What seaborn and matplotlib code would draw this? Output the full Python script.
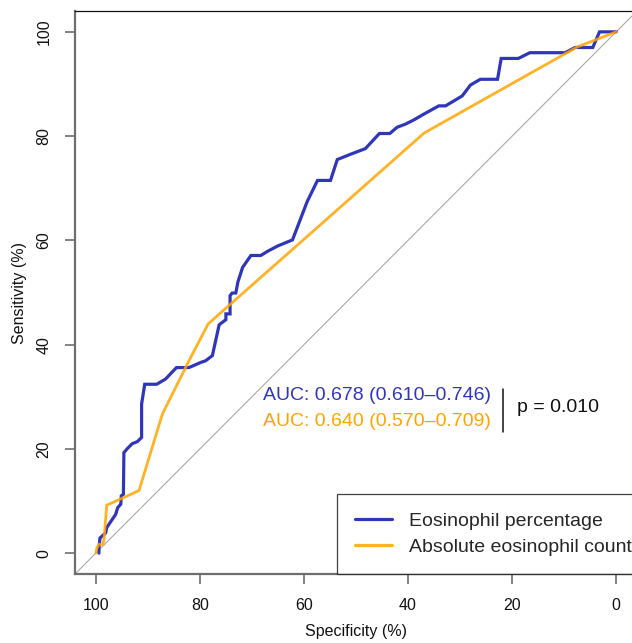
import pandas as pd
import matplotlib
matplotlib.use("Agg")
import matplotlib.pyplot as plt
import seaborn as sns

# ROC points (specificity %, sensitivity %)
pct_spec = [99.4, 99.4, 99.2, 98.1, 97.9, 97.3, 96.2, 95.8, 95.2, 95.1, 94.7, 94.6,
            93.9, 93.0, 92.0, 91.2, 91.2, 90.6, 88.3, 86.6, 84.5, 82.1, 79.8, 78.9,
            77.6, 76.3, 75.0, 75.0, 74.2, 74.2, 73.8, 73.1, 72.7, 71.8, 70.2, 68.3,
            67.0, 65.1, 62.2, 59.4, 57.4, 54.9, 53.6, 51.1, 48.2, 45.5, 43.5, 42.1,
            40.5, 38.9, 37.0, 34.1, 32.8, 29.6, 28.0, 26.1, 22.8, 22.1, 18.8, 16.6,
            9.8, 7.9, 4.5, 4.5, 3.2, 0.0]
pct_sens = [0.0, 1.0, 2.9, 3.9, 4.9, 5.8, 7.4, 8.7, 9.4, 11.0, 11.3, 19.3,
            20.1, 21.0, 21.4, 22.2, 28.6, 32.4, 32.4, 33.4, 35.6, 35.6, 36.6, 36.9,
            37.9, 43.8, 44.8, 45.9, 45.9, 49.4, 49.9, 49.9, 52.0, 54.8, 57.1, 57.1,
            57.9, 58.9, 60.1, 67.4, 71.5, 71.5, 75.5, 76.5, 77.6, 80.5, 80.5, 81.7,
            82.3, 83.1, 84.2, 85.8, 85.8, 87.7, 89.8, 90.9, 90.9, 94.9, 94.9, 96.0,
            96.0, 97.0, 97.0, 97.0, 100.0, 100.0]

abs_spec = [100.0, 99.8, 99.4, 98.6, 98.4, 97.9, 91.7, 87.2, 82.1, 78.4, 62.5, 36.9, 7.5, 0.0]
abs_sens = [0.0, 1.0, 1.7, 1.7, 3.0, 9.2, 12.0, 26.7, 36.9, 44.0, 58.0, 80.6, 97.1, 100.0]

labels = ["Eosinophil percentage", "Absolute eosinophil count"]
auc_text = ["AUC: 0.678 (0.610\u20130.746)", "AUC: 0.640 (0.570\u20130.709)"]
p_text = "p = 0.010"

blue = "#0c13ac"
orange = "#ffa500"

roc = pd.concat([
    pd.DataFrame({"spec": pct_spec, "sens": pct_sens, "marker": labels[0]}),
    pd.DataFrame({"spec": abs_spec, "sens": abs_sens, "marker": labels[1]}),
], ignore_index=True)

sns.set_theme(style="white")
plt.rcParams["font.family"] = ["Liberation Sans", "DejaVu Sans"]

fig = plt.figure(figsize=(6.32, 6.43), dpi=100)
ax = fig.add_axes([75 / 632, 69 / 643, 562 / 632, 563 / 643])

# chance line
ax.axline((100, 0), (0, 100), color="#a8a8a8", lw=0.8, zorder=1)

sns.lineplot(data=roc, x="spec", y="sens", hue="marker", sort=False,
             estimator=None, palette=[blue, orange], ax=ax, legend=False,
             alpha=0.85, zorder=3)
for ln, w in zip(ax.get_lines()[1:], [2.3, 2.0]):
    ln.set_linewidth(w)
    ln.set_solid_joinstyle("miter")

ax.set_xlim(104, -4)
ax.set_ylim(-4, 104)
ax.set_xticks([100, 80, 60, 40, 20, 0])
ax.set_yticks([0, 20, 40, 60, 80, 100])
ax.tick_params(axis="both", direction="out", length=7, width=1.2, color="#6e6e6e",
               labelsize=11.5, labelcolor="#111111", pad=10, left=True, bottom=True)
for t in ax.get_yticklabels():
    t.set_rotation(90)
    t.set_va("center")
ax.set_xlabel("Specificity (%)", fontsize=11.5, labelpad=8, color="#111111")
ax.set_ylabel("Sensitivity (%)", fontsize=11.5, labelpad=7, color="#111111")

for side in ["left", "bottom"]:
    ax.spines[side].set_color("#6e6e6e")
    ax.spines[side].set_linewidth(1.6)
ax.spines["top"].set_color("#111111")
ax.spines["top"].set_linewidth(0.9)
ax.spines["right"].set_visible(False)

# AUC annotations
ax.text(67.8, 30.2, auc_text[0], color="#3036b8", fontsize=14, va="center", ha="left")
ax.text(67.8, 25.2, auc_text[1], color=orange, fontsize=14, va="center", ha="left")
ax.plot([21.7, 21.7], [23.3, 31.5], color="#111111", lw=1.1)
ax.text(19.0, 27.9, p_text, color="#111111", fontsize=14, va="center", ha="left")

handles = [plt.Line2D([], [], color=blue, lw=2.3, alpha=0.85),
           plt.Line2D([], [], color=orange, lw=2.3, alpha=0.85)]
leg = ax.legend(handles, labels, loc="lower left", bbox_to_anchor=(0.466, 0.0),
                fontsize=14, frameon=True, fancybox=False, edgecolor="#111111",
                handlelength=1.9, handletextpad=0.85, borderpad=0.95, labelspacing=0.4,
                borderaxespad=0.0)
leg.get_frame().set_linewidth(0.9)

fig.savefig("out.png", dpi=100)
